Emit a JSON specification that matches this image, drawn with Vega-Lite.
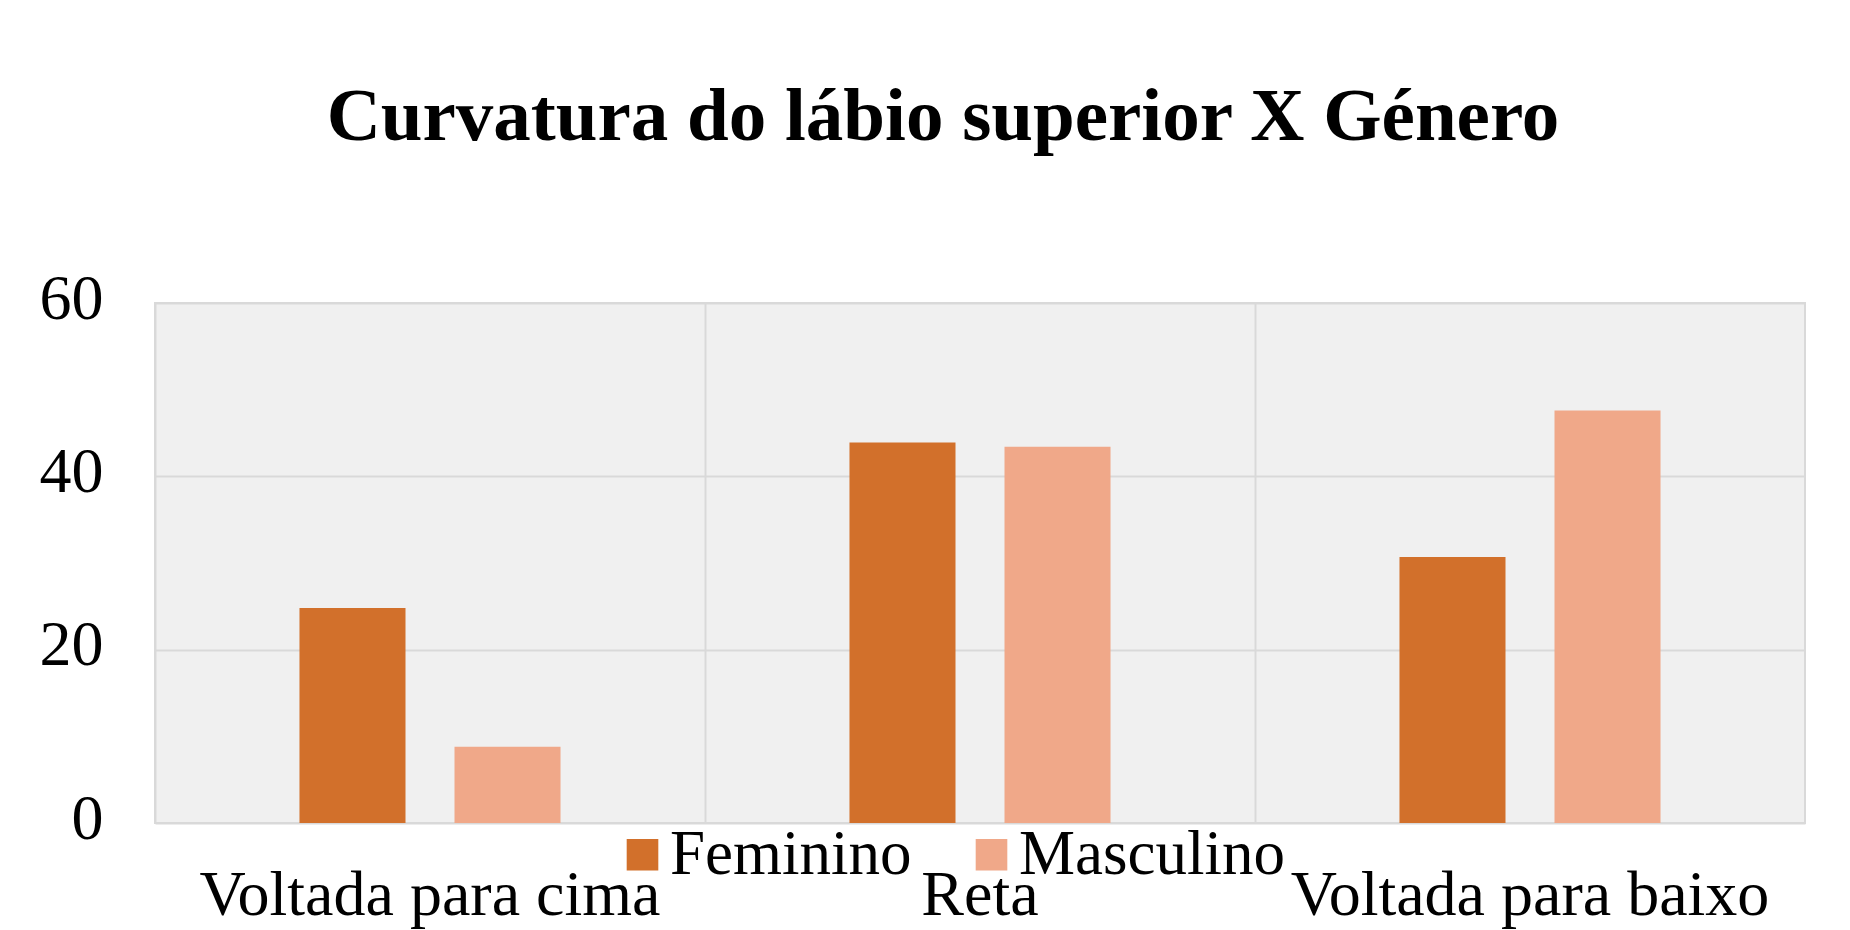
{
  "$schema": "https://vega.github.io/schema/vega-lite/v6.json",
  "width": 1650,
  "height": 520,
  "autosize": {"type": "none"},
  "padding": {"left": 155, "top": 303, "right": 45, "bottom": 107},
  "background": "white",
  "title": {
    "text": "Curvatura do lábio superior X Género",
    "font": "Liberation Serif",
    "fontSize": 75,
    "fontWeight": "bold",
    "color": "black",
    "anchor": "middle",
    "frame": "group",
    "dx": -37,
    "offset": 52,
    "baseline": "alphabetic"
  },
  "data": {
    "values": [
      {"curvatura": "Voltada para cima", "genero": "Feminino", "valor": 24.8},
      {"curvatura": "Voltada para cima", "genero": "Masculino", "valor": 8.8},
      {"curvatura": "Reta", "genero": "Feminino", "valor": 43.9},
      {"curvatura": "Reta", "genero": "Masculino", "valor": 43.4},
      {"curvatura": "Voltada para baixo", "genero": "Feminino", "valor": 30.7},
      {"curvatura": "Voltada para baixo", "genero": "Masculino", "valor": 47.6}
    ]
  },
  "mark": {"type": "bar"},
  "encoding": {
    "x": {
      "field": "curvatura",
      "type": "nominal",
      "sort": ["Voltada para cima", "Reta", "Voltada para baixo"],
      "scale": {"paddingInner": 0, "paddingOuter": 0},
      "axis": {
        "title": null,
        "labelAngle": 0,
        "labelFont": "Liberation Serif",
        "labelFontSize": 64,
        "labelColor": "black",
        "labelPadding": 40,
        "labelLimit": 700,
        "ticks": false,
        "tickSize": 0,
        "domain": false,
        "grid": true,
        "gridColor": "#d9d9d9",
        "gridWidth": 2,
        "bandPosition": 0
      }
    },
    "xOffset": {
      "field": "genero",
      "type": "nominal",
      "sort": ["Feminino", "Masculino"],
      "scale": {"paddingInner": 0.316, "paddingOuter": 0.932}
    },
    "y": {
      "field": "valor",
      "type": "quantitative",
      "scale": {"domain": [0, 60], "nice": false},
      "axis": {
        "title": null,
        "values": [0, 20, 40, 60],
        "labelFont": "Liberation Serif",
        "labelFontSize": 64,
        "labelColor": "black",
        "labelPadding": 52,
        "labelOffset": -4,
        "ticks": false,
        "tickSize": 0,
        "domain": false,
        "grid": true,
        "gridColor": "#d9d9d9",
        "gridWidth": 2
      }
    },
    "color": {
      "field": "genero",
      "type": "nominal",
      "scale": {"domain": ["Feminino", "Masculino"], "range": ["#D2702B", "#F0A889"]},
      "legend": {
        "title": null,
        "orient": "none",
        "legendX": 456,
        "legendY": 520,
        "direction": "horizontal",
        "symbolType": "square",
        "symbolSize": 1000,
        "symbolStrokeWidth": 0,
        "symbolOpacity": 1,
        "labelFont": "Liberation Serif",
        "labelFontSize": 63,
        "labelColor": "black",
        "labelOffset": -4,
        "columnPadding": 48,
        "labelLimit": 600,
        "padding": 0
      }
    }
  },
  "config": {
    "view": {"stroke": "#d9d9d9", "strokeWidth": 2, "fill": "#f0f0f0"}
  }
}
